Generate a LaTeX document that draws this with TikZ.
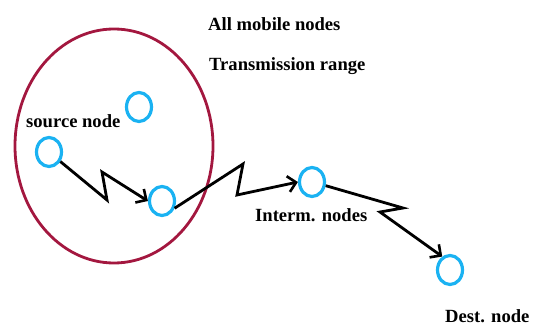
\documentclass[tikz,border=0pt]{standalone}
\usepackage{fontspec}
\setmainfont{Liberation Serif}
\usetikzlibrary{arrows.meta,shapes.geometric}
\definecolor{ringred}{HTML}{A3173F}
\definecolor{nodeblue}{HTML}{1AB2F2}
\begin{document}
\begin{tikzpicture}[x=1pt,y=-1pt,
  mnode/.style={draw=nodeblue,line width=3.2pt,ellipse,minimum width=25pt,minimum height=29pt,inner sep=0pt},
  lbl/.style={anchor=base west,inner sep=0pt,font=\fontsize{18.6}{22}\selectfont\bfseries},
  zap/.style={draw=black,line width=2.8pt,line join=miter,-{Straight Barb[length=8pt,width=16pt,line width=2.6pt]}},
  rangering/.style={draw=ringred,line width=2.8pt}]
\useasboundingbox (0,0) rectangle (539,326);
\draw[rangering] (114,146) ellipse [x radius=99, y radius=117];
\node[mnode] (top) at (139,107) {};
\node[mnode] (src) at (49,152) {};
\node[mnode] (n3) at (162,201) {};
\node[mnode] (im) at (312,182) {};
\node[mnode] (dst) at (450,270) {};
\node[lbl] (t1) at (208,31) {All mobile nodes};
\node[lbl] (t2) at (209,71) {Transmission range};
\node[lbl] (t3) at (26,128) {source node};
\node[lbl] (t4) at (255,222) {Interm. nodes};
\node[lbl] (t5) at (445,323) {Dest. node};
\draw[zap] (src.-40) -- (107,200) -- (102,172) -- (n3.west);
\draw[zap] (n3.-30) -- (243,164) -- (237,195) -- (im.west);
\draw[zap] (im.-15) -- (403,208) -- (380,212) -- (dst.120);
\end{tikzpicture}
\end{document}
